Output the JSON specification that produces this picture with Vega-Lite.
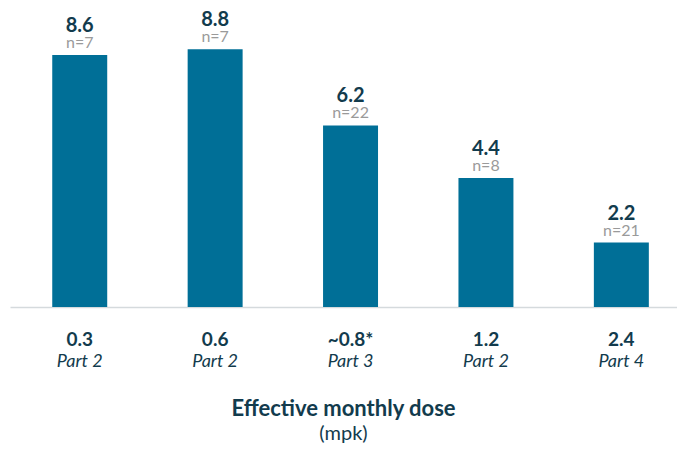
{
  "$schema": "https://vega.github.io/schema/vega-lite/v6.json",
  "autosize": {"type": "none"},
  "padding": {"left": 10, "top": 0, "right": 0, "bottom": 145},
  "width": 667,
  "height": 307,
  "background": "white",
  "config": {"view": {"stroke": null}, "font": "Lato"},
  "title": {
    "text": "Effective monthly dose",
    "subtitle": "(mpk)",
    "orient": "bottom",
    "anchor": "middle",
    "fontSize": 22,
    "fontWeight": "bold",
    "color": "#123b4d",
    "subtitleFontSize": 20,
    "subtitleColor": "#123b4d",
    "subtitleFontWeight": "normal",
    "subtitlePadding": 3,
    "offset": 28
  },
  "data": {
    "values": [
      {"dose": "0.3", "part": "Part 2", "value": 8.6, "n": "n=7", "order": 1},
      {"dose": "0.6", "part": "Part 2", "value": 8.8, "n": "n=7", "order": 2},
      {"dose": "~0.8*", "part": "Part 3", "value": 6.2, "n": "n=22", "order": 3},
      {"dose": "1.2", "part": "Part 2", "value": 4.4, "n": "n=8", "order": 4},
      {"dose": "2.4", "part": "Part 4", "value": 2.2, "n": "n=21", "order": 5}
    ]
  },
  "encoding": {
    "x": {
      "field": "dose",
      "type": "nominal",
      "sort": {"field": "order"},
      "scale": {"paddingInner": 0.594, "paddingOuter": 0.26, "align": 0.6},
      "axis": {
        "title": null,
        "labelAngle": 0,
        "ticks": false,
        "domainColor": "#d5dadd",
        "domainWidth": 1.5,
        "labelFontSize": 19,
        "labelFontWeight": "bold",
        "labelColor": "#123b4d",
        "labelBaseline": "alphabetic",
        "labelPadding": 38
      }
    }
  },
  "layer": [
    {
      "mark": {"type": "bar", "color": "#006f97"},
      "encoding": {
        "y": {
          "field": "value",
          "type": "quantitative",
          "scale": {"domain": [0, 10.48], "nice": false},
          "axis": null
        }
      }
    },
    {
      "mark": {"type": "text", "dy": -23, "fontSize": 20, "fontWeight": "bold", "color": "#123b4d", "baseline": "alphabetic"},
      "encoding": {
        "y": {"field": "value", "type": "quantitative"},
        "text": {"field": "value", "type": "quantitative", "format": ".1f"}
      }
    },
    {
      "mark": {"type": "text", "dy": -7, "fontSize": 16, "color": "#9a9a9a", "baseline": "alphabetic"},
      "encoding": {
        "y": {"field": "value", "type": "quantitative"},
        "text": {"field": "n"}
      }
    },
    {
      "mark": {"type": "text", "dy": 60, "fontSize": 18, "fontStyle": "italic", "color": "#123b4d", "baseline": "alphabetic"},
      "encoding": {
        "y": {"datum": 0, "type": "quantitative"},
        "text": {"field": "part"}
      }
    }
  ]
}
